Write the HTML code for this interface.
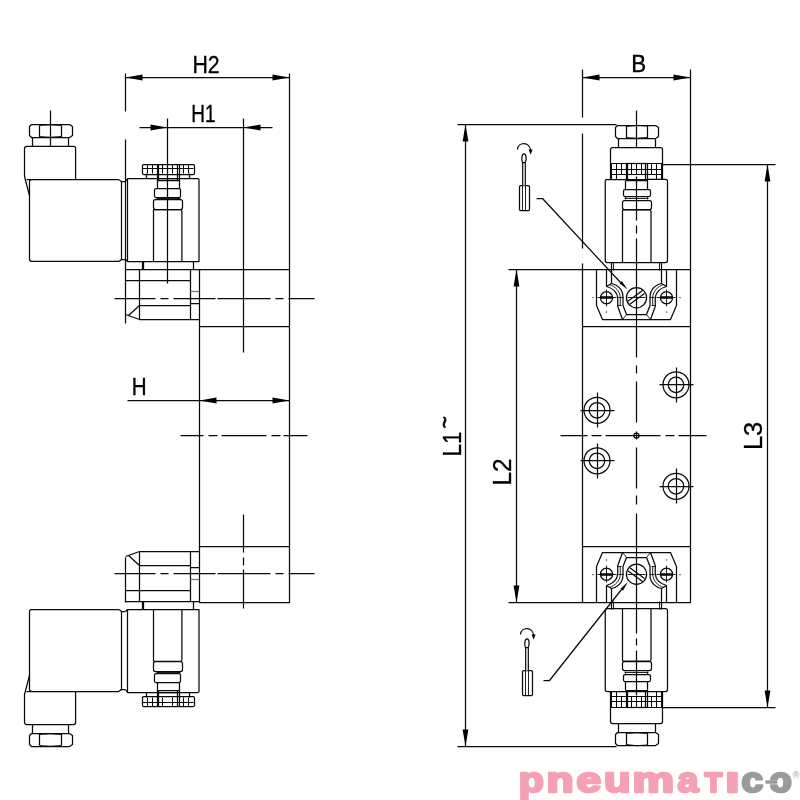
<!DOCTYPE html>
<html><head><meta charset="utf-8"><title>drawing</title>
<style>
html,body{margin:0;padding:0;background:#fff;}
svg{display:block;will-change:transform}
.d{fill:none;stroke:#0a0a0a;stroke-width:1.25;stroke-linecap:butt;stroke-linejoin:round}
.d .t{stroke-width:0.9}
.d .k{stroke-width:1.05}
.d .g{stroke:#777}
.d .f{fill:#000;stroke:none}
.d text{fill:#000;stroke:#000;stroke-width:0.35px;font-family:"Liberation Sans",sans-serif;font-size:24px}
</style></head><body>
<svg width="800" height="800" viewBox="0 0 800 800">
<g class="d">
<g id="lh"><path d="M31.5,124.5 H69.5 L72.5,126.5 V135.5 L69.5,137.5 H31.5 L29.5,135.5 V126.5 Z"/>
<path d="M39.5,125.5 V137.5 M61.5,125.5 V137.5"/>
<path d="M39.5,125.5 Q50.5,124 61.5,125.6 M39.5,136.5 Q50.5,138 61.5,136.4" class="t"/>
<path d="M32.5,137.5 V146.5 M68.5,137.5 V146.5"/>
<path d="M29.5,195.5 L24.5,176.5 V148.5 Q24.75,146.4 26.75,146.4 H73.5 Q75.6,146.4 75.6,148.4 V179.5"/>
<path d="M26.5,179.5 H118.5 Q120.2,180.2 121.25,181.5 H125.5 M121.5,181.5 V259.5 M125.5,259.5 H121.5 Q120.2,261 118.75,261.3 H31.5 Q29.5,261.3 29.5,259.3 V181.5 Q29.5,179.8 31.5,179.8"/>
<path d="M125.5,181.5 L127.5,178.5 H197.5 Q199,178.5 199,179.5 V261.5 H127.5 V178.5 M125.5,259.5 L127.5,261.5"/>
<rect x="142.5" y="164.5" width="52" height="10" rx="1.2"/>
<path d="M142.5,168.5 H193.5" class="k"/>
<path d="M147.5,164.5 V173.5 M152.5,164.5 V173.5 M162.5,164.5 V173.5 M172.5,164.5 V173.5 M183.5,164.5 V173.5 M188.5,164.5 V173.5" class="k"/>
<path d="M146.5,173.5 V178.5 M189.5,173.5 V178.5"/>
<path d="M157.5,164.5 V180.5 H179.5 V164.5 M158.5,164.5 V180.5 M177.5,164.5 V180.5 M157.5,178.5 H179.5" />
<path d="M157.5,180.5 V188.5 M179.5,180.5 V188.5"/>
<rect x="154.5" y="188.5" width="26" height="9" rx="1.5"/>
<path d="M157.5,197.5 V199.5 M178.5,197.5 V199.5 M156.5,198.5 H180.5" class="t"/>
<rect x="153.5" y="199.5" width="29" height="10" rx="2"/>
<path d="M153.5,261.5 V211.5 Q153.1,209.6 155,209.6 H180.5 Q181.9,209.6 181.9,211.4 V261.5"/>
<path d="M142.5,261.5 V269.5 M193.5,261.5 V269.5 M143.5,261.5 V269.5" />
<path d="M125.5,269.5 H199.5 M125.5,280.5 H190.5 M139.5,269.5 V319.5 M190.5,269.5 V319.5 M139.5,305.5 H190.5 M139.5,319.5 H199.5 M190.5,303.5 H199.5"/>
<path d="M190.5,291.5 H199.5" class="g"/>
<path d="M139.5,305.5 L128.5,315.5 M125.5,314.5 L139.5,319.5"/></g>
<g transform="translate(0,871.0) scale(1,-1)"><path d="M31.5,124.5 H69.5 L72.5,126.5 V135.5 L69.5,137.5 H31.5 L29.5,135.5 V126.5 Z"/>
<path d="M39.5,125.5 V137.5 M61.5,125.5 V137.5"/>
<path d="M39.5,125.5 Q50.5,124 61.5,125.6 M39.5,136.5 Q50.5,138 61.5,136.4" class="t"/>
<path d="M32.5,137.5 V146.5 M68.5,137.5 V146.5"/>
<path d="M29.5,195.5 L24.5,176.5 V148.5 Q24.75,146.4 26.75,146.4 H73.5 Q75.6,146.4 75.6,148.4 V179.5"/>
<path d="M26.5,179.5 H118.5 Q120.2,180.2 121.25,181.5 H125.5 M121.5,181.5 V259.5 M125.5,259.5 H121.5 Q120.2,261 118.75,261.3 H31.5 Q29.5,261.3 29.5,259.3 V181.5 Q29.5,179.8 31.5,179.8"/>
<path d="M125.5,181.5 L127.5,178.5 H197.5 Q199,178.5 199,179.5 V261.5 H127.5 V178.5 M125.5,259.5 L127.5,261.5"/>
<rect x="142.5" y="164.5" width="52" height="10" rx="1.2"/>
<path d="M142.5,168.5 H193.5" class="k"/>
<path d="M147.5,164.5 V173.5 M152.5,164.5 V173.5 M162.5,164.5 V173.5 M172.5,164.5 V173.5 M183.5,164.5 V173.5 M188.5,164.5 V173.5" class="k"/>
<path d="M146.5,173.5 V178.5 M189.5,173.5 V178.5"/>
<path d="M157.5,164.5 V180.5 H179.5 V164.5 M158.5,164.5 V180.5 M177.5,164.5 V180.5 M157.5,178.5 H179.5" />
<path d="M157.5,180.5 V188.5 M179.5,180.5 V188.5"/>
<rect x="154.5" y="188.5" width="26" height="9" rx="1.5"/>
<path d="M157.5,197.5 V199.5 M178.5,197.5 V199.5 M156.5,198.5 H180.5" class="t"/>
<rect x="153.5" y="199.5" width="29" height="10" rx="2"/>
<path d="M153.5,261.5 V211.5 Q153.1,209.6 155,209.6 H180.5 Q181.9,209.6 181.9,211.4 V261.5"/>
<path d="M142.5,261.5 V269.5 M193.5,261.5 V269.5 M143.5,261.5 V269.5" />
<path d="M125.5,269.5 H199.5 M125.5,280.5 H190.5 M139.5,269.5 V319.5 M190.5,269.5 V319.5 M139.5,305.5 H190.5 M139.5,319.5 H199.5 M190.5,303.5 H199.5"/>
<path d="M190.5,291.5 H199.5" class="g"/>
<path d="M139.5,305.5 L128.5,315.5 M125.5,314.5 L139.5,319.5"/></g>
<path d="M199.5,269.5 H289.5 V602.5 H199.5 Z M199.5,326.5 H289.5 M199.5,546.5 H289.5"/>
<path d="M125.5,557.5 V602.5"/>
<path d="M125.5,73.5 V111.5 M125.5,139.5 V323.5 M289.5,73.5 V270.5"/>
<path d="M125.5,77.5 H289.5"/>
<polygon class="f" points="125.5,77.5 142.5,74.6 142.5,80.4"/>
<polygon class="f" points="289.5,77.5 272.5,74.6 272.5,80.4"/>
<path d="M167.5,118.5 V283.5 M243.5,118.5 V352.5 M139.5,127.5 H272.5"/>
<polygon class="f" points="167.5,127.5 150.5,124.6 150.5,130.4"/>
<polygon class="f" points="243.5,127.5 260.5,124.6 260.5,130.4"/>
<path d="M127.5,400.5 H289.5"/>
<polygon class="f" points="199.5,400.5 216.5,397.6 216.5,403.4"/>
<polygon class="f" points="289.5,400.5 272.5,397.6 272.5,403.4"/>
<path d="M180.5,435.5 H203.5 M208.5,435.5 H217.5 M221.5,435.5 H266.5 M271.5,435.5 H280.5 M283.5,435.5 H307.5"/>
<path d="M114.5,298.5 H155.5 M160.5,298.5 H168.5 M173.5,298.5 H215.5 M217.5,298.5 H270.5 M275.5,298.5 H283.5 M288.5,298.5 H314.5"/>
<path d="M114.5,573.5 H155.5 M160.5,573.5 H168.5 M173.5,573.5 H215.5 M217.5,573.5 H270.5 M275.5,573.5 H283.5 M288.5,573.5 H314.5"/>
<path d="M243.5,514.5 V552.5 M243.5,557.5 V565.5 M243.5,569.5 V608.5"/>
<path d="M50.5,110.5 V146.5"/>
<g><path d="M617.5,125.5 H655.5 L658.5,127.5 V136.5 L655.5,138.5 H617.5 L615.5,136.5 V127.5 Z"/><path d="M626.5,125.5 V138.5 M647.5,125.5 V138.5"/><path d="M626.5,126.5 Q636.5,124.4 647.25,126 M626.5,137.5 Q636.5,139 647.25,137.4" class="t"/><path d="M618.5,138.5 V147.5 M655.5,138.5 V147.5"/><path d="M610.5,179.5 V149.5 Q610.6,147.5 612.6,147.5 H660.5 Q662.5,147.5 662.5,149.5 V179.5"/><path d="M610.5,163.5 H662.5 M611.5,169.5 H661.5 M611.5,174.5 H661.5" class="k"/><path d="M621.5,163.5 V174.5 M631.5,163.5 V174.5 M636.5,163.5 V174.5 M641.5,163.5 V174.5 M651.5,163.5 V174.5" class="k"/><path d="M611.5,163.5 V179.5 M616.5,163.5 V179.5 M656.5,163.5 V179.5 M661.5,163.5 V179.5" class="k"/><path d="M626.5,163.5 V180.5 H647.5 V163.5 M627.5,163.5 V180.5 M645.5,163.5 V180.5 M626.5,179.5 H647.5"/><path d="M626.5,163.5 H647.5"/><path d="M626.5,179.5 H607.5 Q605.25,179.4 605.25,181.4 V260.5 Q605.25,262.5 607.25,262.5 H665.5 Q667.5,262.5 667.5,260.5 V181.5 Q667.5,179.4 665.5,179.4 H647.5"/><path d="M625.5,180.5 V189.5 M647.5,180.5 V189.5"/><rect x="623.5" y="189.5" width="27" height="7" rx="1.5"/><path d="M625.5,196.5 V199.5 M647.5,196.5 V199.5 M624.5,198.5 H648.5" class="t"/><rect x="622.5" y="200.5" width="29" height="9" rx="2"/><path d="M622.5,262.5 V211.5 Q622.25,209.8 624.1,209.8 H649.5 Q651,209.8 651,211.6 V262.5"/></g>
<g transform="translate(0,871.0) scale(1,-1)"><path d="M617.5,125.5 H655.5 L658.5,127.5 V136.5 L655.5,138.5 H617.5 L615.5,136.5 V127.5 Z"/><path d="M626.5,125.5 V138.5 M647.5,125.5 V138.5"/><path d="M626.5,126.5 Q636.5,124.4 647.25,126 M626.5,137.5 Q636.5,139 647.25,137.4" class="t"/><path d="M618.5,138.5 V147.5 M655.5,138.5 V147.5"/><path d="M610.5,179.5 V149.5 Q610.6,147.5 612.6,147.5 H660.5 Q662.5,147.5 662.5,149.5 V179.5"/><path d="M610.5,163.5 H662.5 M611.5,169.5 H661.5 M611.5,174.5 H661.5" class="k"/><path d="M621.5,163.5 V174.5 M631.5,163.5 V174.5 M636.5,163.5 V174.5 M641.5,163.5 V174.5 M651.5,163.5 V174.5" class="k"/><path d="M611.5,163.5 V179.5 M616.5,163.5 V179.5 M656.5,163.5 V179.5 M661.5,163.5 V179.5" class="k"/><path d="M626.5,163.5 V180.5 H647.5 V163.5 M627.5,163.5 V180.5 M645.5,163.5 V180.5 M626.5,179.5 H647.5"/><path d="M626.5,163.5 H647.5"/><path d="M626.5,179.5 H607.5 Q605.25,179.4 605.25,181.4 V260.5 Q605.25,262.5 607.25,262.5 H665.5 Q667.5,262.5 667.5,260.5 V181.5 Q667.5,179.4 665.5,179.4 H647.5"/><path d="M625.5,180.5 V189.5 M647.5,180.5 V189.5"/><rect x="623.5" y="189.5" width="27" height="7" rx="1.5"/><path d="M625.5,196.5 V199.5 M647.5,196.5 V199.5 M624.5,198.5 H648.5" class="t"/><rect x="622.5" y="200.5" width="29" height="9" rx="2"/><path d="M622.5,262.5 V211.5 Q622.25,209.8 624.1,209.8 H649.5 Q651,209.8 651,211.6 V262.5"/></g>
<g><path d="M596.5,269.5 V305.5 L602.5,319.5 H636.5"/><path d="M606.5,269.5 V286.5" class="g2"/><path d="M611.5,262.5 V283.5 L606.5,286.5"/><path d="M613.5,262.5 V270.5" class="t"/><path d="M611.5,283.5 C617,284.5 623,289 623,297 V305.5 L626.5,314.5 H636.5"/><path d="M609.5,284.5 C615,286.5 620.3,291 620.3,298 V305.5" class="t"/><path d="M606.5,286.5 C612,288 617.75,292 617.75,299 V306.5 L622.5,319.5"/><path d="M617.5,305.5 H621.5" class="t"/><path d="M626.5,314.5 L622.5,319.5" class="t"/><circle cx="606.5" cy="297.75" r="6.1"/><path d="M600.5,297.5 H612.5" style="stroke-width:2.6"/><path d="M606.5,289.5 V306.5" class="t"/><path d="M606.5,311.5 V312.5 M592.5,297.5 H593.5"/><path d="M597.5,297.5 H616.5 M618.5,297.5 H623.5" class="t"/><g transform="translate(1273.0,0) scale(-1,1)"><path d="M596.5,269.5 V305.5 L602.5,319.5 H636.5"/><path d="M606.5,269.5 V286.5" class="g2"/><path d="M611.5,262.5 V283.5 L606.5,286.5"/><path d="M613.5,262.5 V270.5" class="t"/><path d="M611.5,283.5 C617,284.5 623,289 623,297 V305.5 L626.5,314.5 H636.5"/><path d="M609.5,284.5 C615,286.5 620.3,291 620.3,298 V305.5" class="t"/><path d="M606.5,286.5 C612,288 617.75,292 617.75,299 V306.5 L622.5,319.5"/><path d="M617.5,305.5 H621.5" class="t"/><path d="M626.5,314.5 L622.5,319.5" class="t"/><circle cx="606.5" cy="297.75" r="6.1"/><path d="M600.5,297.5 H612.5" style="stroke-width:2.6"/><path d="M606.5,289.5 V306.5" class="t"/><path d="M606.5,311.5 V312.5 M592.5,297.5 H593.5"/><path d="M597.5,297.5 H616.5 M618.5,297.5 H623.5" class="t"/></g><circle cx="636.5" cy="297.75" r="10.1"/><path d="M627.5,301.5 L642.5,290.5 M629.5,304.5 L644.5,293.5"/><path d="M627.5,297.5 H645.5" class="t"/></g>
<g transform="translate(0,872.0) scale(1,-1)"><path d="M596.5,269.5 V305.5 L602.5,319.5 H636.5"/><path d="M606.5,269.5 V286.5" class="g2"/><path d="M611.5,262.5 V283.5 L606.5,286.5"/><path d="M613.5,262.5 V270.5" class="t"/><path d="M611.5,283.5 C617,284.5 623,289 623,297 V305.5 L626.5,314.5 H636.5"/><path d="M609.5,284.5 C615,286.5 620.3,291 620.3,298 V305.5" class="t"/><path d="M606.5,286.5 C612,288 617.75,292 617.75,299 V306.5 L622.5,319.5"/><path d="M617.5,305.5 H621.5" class="t"/><path d="M626.5,314.5 L622.5,319.5" class="t"/><circle cx="606.5" cy="297.75" r="6.1"/><path d="M600.5,297.5 H612.5" style="stroke-width:2.6"/><path d="M606.5,289.5 V306.5" class="t"/><path d="M606.5,311.5 V312.5 M592.5,297.5 H593.5"/><path d="M597.5,297.5 H616.5 M618.5,297.5 H623.5" class="t"/><g transform="translate(1273.0,0) scale(-1,1)"><path d="M596.5,269.5 V305.5 L602.5,319.5 H636.5"/><path d="M606.5,269.5 V286.5" class="g2"/><path d="M611.5,262.5 V283.5 L606.5,286.5"/><path d="M613.5,262.5 V270.5" class="t"/><path d="M611.5,283.5 C617,284.5 623,289 623,297 V305.5 L626.5,314.5 H636.5"/><path d="M609.5,284.5 C615,286.5 620.3,291 620.3,298 V305.5" class="t"/><path d="M606.5,286.5 C612,288 617.75,292 617.75,299 V306.5 L622.5,319.5"/><path d="M617.5,305.5 H621.5" class="t"/><path d="M626.5,314.5 L622.5,319.5" class="t"/><circle cx="606.5" cy="297.75" r="6.1"/><path d="M600.5,297.5 H612.5" style="stroke-width:2.6"/><path d="M606.5,289.5 V306.5" class="t"/><path d="M606.5,311.5 V312.5 M592.5,297.5 H593.5"/><path d="M597.5,297.5 H616.5 M618.5,297.5 H623.5" class="t"/></g><circle cx="636.5" cy="297.75" r="10.1"/><path d="M627.5,301.5 L642.5,290.5 M629.5,304.5 L644.5,293.5"/><path d="M627.5,297.5 H645.5" class="t"/></g>
<path d="M582.5,269.5 H690.5 V602.5 H582.5 Z M582.5,326.5 H690.5 M582.5,546.5 H690.5"/>
<circle cx="597" cy="410.25" r="13"/><circle cx="597" cy="410.25" r="7.75"/><path d="M580.5,410.5 H614.5 M597.5,392.5 V427.5"/>
<circle cx="597" cy="460.75" r="13"/><circle cx="597" cy="460.75" r="7.75"/><path d="M580.5,460.5 H614.5 M597.5,443.5 V478.5"/>
<circle cx="676" cy="384.75" r="13"/><circle cx="676" cy="384.75" r="7.75"/><path d="M659.5,384.5 H693.5 M676.5,367.5 V402.5"/>
<circle cx="676" cy="486.25" r="13"/><circle cx="676" cy="486.25" r="7.75"/><path d="M659.5,486.5 H693.5 M676.5,468.5 V503.5"/>
<circle cx="636.45" cy="435.6" r="2.6"/>
<path d="M560.5,435.5 H587.5 M591.5,435.5 H601.5 M605.5,435.5 H660.5 M665.5,435.5 H674.5 M678.5,435.5 H706.5"/>
<path d="M636.5,110.5 V147.5 M636.5,176.5 V220.5 M636.5,225.5 V233.5 M636.5,238.5 V357.5 M636.5,365.5 V373.5 M636.5,381.5 V422.5 M636.5,431.5 V439.5 M636.5,447.5 V488.5 M636.5,495.5 V504.5 M636.5,513.5 V633.5 M636.5,638.5 V645.5 M636.5,650.5 V695.5"/>
<path d="M582.5,69.5 V117.5 M582.5,133.5 V248.5 M582.5,263.5 V270.5 M690.5,69.5 V270.5 M582.5,77.5 H690.5"/>
<polygon class="f" points="582.5,77.5 599.5,74.6 599.5,80.4"/>
<polygon class="f" points="690.5,77.5 673.5,74.6 673.5,80.4"/>
<path d="M457.5,124.5 H616.5 M457.5,746.5 H616.5 M465.5,124.5 V746.5"/>
<polygon class="f" points="465.5,124.5 462.6,141.5 468.4,141.5"/>
<polygon class="f" points="465.5,746.5 462.6,729.5 468.4,729.5"/>
<path d="M508.5,269.5 H582.5 M508.5,602.5 H582.5 M516.5,269.5 V602.5"/>
<polygon class="f" points="516.5,269.5 513.6,286.5 519.4,286.5"/>
<polygon class="f" points="516.5,602.5 513.6,585.5 519.4,585.5"/>
<path d="M662.5,164.5 H775.5 M662.5,707.5 H775.5 M767.5,164.5 V707.5"/>
<polygon class="f" points="767.5,164.5 764.6,181.5 770.4,181.5"/>
<polygon class="f" points="767.5,707.5 764.6,690.5 770.4,690.5"/>
<path d="M536.5,198.5 L542.5,198.5 L620.5,282.5"/><polygon class="f" points="627.5,289.4 619.50,283.19 621.84,281.00"/>
<path d="M543.5,680.5 L549.5,680.5 L621.5,589.5"/><polygon class="f" points="627.9,582 622.94,590.83 620.43,588.84"/>
<g transform="translate(0,0)"><rect x="519.5" y="185.5" width="10" height="25" rx="1.3"/><path d="M522.5,185.5 V210.5 M525.5,185.5 V210.5" class="t"/><path d="M522.5,185.5 V162.5 H525.5 V185.5" style="fill:#bbb;stroke:none"/><path d="M522.5,162.5 V185.5 M525.5,162.5 V185.5" class="t"/><path d="M522.5,162.5 C521.2,160 521.6,153.8 524,153.8 C526.4,153.8 526.8,160 525.2,162.5 Z" style="fill:#fff"/><path d="M517.5,149.5 C518,141.5 530,141.5 530.6,150.5"/><polygon class="f" points="530.6,154.8 528.6,149.6 532.6,149.6"/></g>
<g transform="translate(3,485)"><rect x="519.5" y="185.5" width="10" height="25" rx="1.3"/><path d="M522.5,185.5 V210.5 M525.5,185.5 V210.5" class="t"/><path d="M522.5,185.5 V162.5 H525.5 V185.5" style="fill:#bbb;stroke:none"/><path d="M522.5,162.5 V185.5 M525.5,162.5 V185.5" class="t"/><path d="M522.5,162.5 C521.2,160 521.6,153.8 524,153.8 C526.4,153.8 526.8,160 525.2,162.5 Z" style="fill:#fff"/><path d="M517.5,149.5 C518,141.5 530,141.5 530.6,150.5"/><polygon class="f" points="530.6,154.8 528.6,149.6 532.6,149.6"/></g>
<text transform="translate(192.45,72.70) scale(0.8798,1)" style="font-size:24.2px;">H2</text>
<text transform="translate(191.34,122.00) scale(0.7851,1)" style="font-size:24.2px;">H1</text>
<text transform="translate(131.71,394.80) scale(0.8507,1)" style="font-size:24.2px;">H</text>
<text transform="translate(631.17,72.40) scale(0.9239,1)" style="font-size:24.2px;">B</text>
<text transform="translate(460.70,456.44) rotate(-90) scale(0.8966,1)" style="font-size:25px;">L1</text>
<text transform="translate(452.40,428.32) rotate(-90) scale(0.9291,1)" style="font-size:22px;stroke-width:0.8px;">~</text>
<text transform="translate(511.40,485.61) rotate(-90) scale(0.9796,1)" style="font-size:25px;">L2</text>
<text transform="translate(761.60,450.08) rotate(-90) scale(1.0139,1)" style="font-size:25px;">L3</text>
<text transform="translate(518.69,791.50) scale(1.1632,1)" style="font-size:35.31598513011135px;font-weight:bold;fill:#f5a1b5;stroke:#f5a1b5;stroke-width:2.6;stroke-linejoin:round;">p</text>
<text transform="translate(546.38,791.50) scale(1.2548,1)" style="font-size:35.31598513011135px;font-weight:bold;fill:#f5a1b5;stroke:#f5a1b5;stroke-width:2.6;stroke-linejoin:round;">n</text>
<text transform="translate(576.57,791.50) scale(1.2548,1)" style="font-size:35.31598513011135px;font-weight:bold;fill:#f5a1b5;stroke:#f5a1b5;stroke-width:2.6;stroke-linejoin:round;">e</text>
<text transform="translate(604.12,791.50) scale(1.2255,1)" style="font-size:35.31598513011135px;font-weight:bold;fill:#f5a1b5;stroke:#f5a1b5;stroke-width:2.6;stroke-linejoin:round;">u</text>
<text transform="translate(632.47,791.50) scale(1.3224,1)" style="font-size:35.31598513011135px;font-weight:bold;fill:#f5a1b5;stroke:#f5a1b5;stroke-width:2.6;stroke-linejoin:round;">m</text>
<text transform="translate(677.60,791.50) scale(1.0621,1)" style="font-size:35.31598513011135px;font-weight:bold;fill:#f5a1b5;stroke:#f5a1b5;stroke-width:2.6;stroke-linejoin:round;">a</text>
<text transform="translate(704.73,791.50) scale(1.0300,1)" style="font-size:27.61627906976731px;font-weight:bold;fill:#f5a1b5;stroke:#f5a1b5;stroke-width:2.6;stroke-linejoin:round;">T</text>
<text transform="translate(725.93,791.50) scale(1.6592,1)" style="font-size:27.61627906976731px;font-weight:bold;fill:#f5a1b5;stroke:#f5a1b5;stroke-width:2.6;stroke-linejoin:round;">I</text>
<text transform="translate(741.53,791.50) scale(1.1000,1)" style="font-size:35.31598513011135px;font-weight:bold;fill:#999b9a;stroke:#999b9a;stroke-width:2.6;stroke-linejoin:round;">c</text>
<text transform="translate(791.82,791.50) scale(-1.1029,1)" style="font-size:35.31598513011135px;font-weight:bold;fill:#999b9a;stroke:#999b9a;stroke-width:2.6;stroke-linejoin:round;">c</text>
<rect x="765.3" y="780.3" width="12" height="3.5" rx="1" style="fill:#999b9a;stroke:none"/>
<text transform="translate(792.6,778)" style="font-size:9.5px;fill:#999b9a;stroke:none">®</text>
</g>
</svg>
</body></html>
